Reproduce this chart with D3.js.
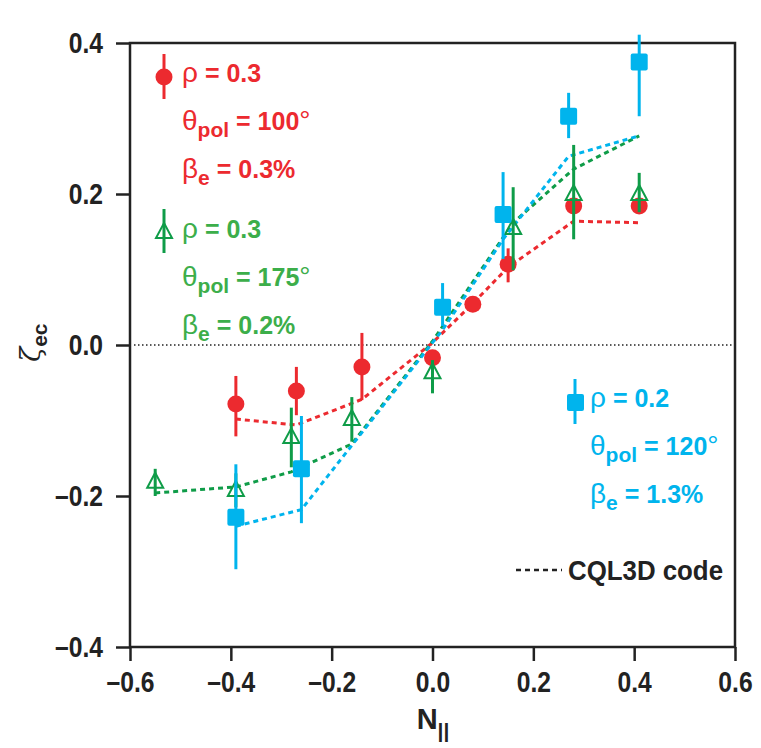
<!DOCTYPE html>
<html>
<head>
<meta charset="utf-8">
<script src="https://cdn.jsdelivr.net/npm/d3@7"></script>
<style>
  body { margin: 0; background: #fff; }
  text { font-family: "Liberation Sans", Arial, sans-serif; }
</style>
</head>
<body>
<div id="chart"></div>
<script>
// measured points, red series (rho = 0.3, theta = 100)
var redX  = [-0.39, -0.27, -0.14, 0.0, 0.08, 0.15, 0.28, 0.41];
var redY  = [-0.078, -0.061, -0.029, -0.017, 0.054, 0.107, 0.184, 0.184];
var redHi = [-0.041, -0.029, 0.016, null, null, 0.128, null, null];
var redLo = [-0.121, -0.093, -0.073, null, null, 0.083, null, null];

// green series (rho = 0.3, theta = 175)
var greenX  = [-0.55, -0.39, -0.28, -0.16, 0.0, 0.16, 0.28, 0.41];
var greenY  = [-0.181, -0.192, -0.122, -0.098, -0.036, 0.155, 0.200, 0.200];
var greenHi = [-0.164, -0.170, -0.083, -0.069, -0.020, 0.209, 0.265, 0.228];
var greenLo = [-0.200, -0.215, -0.162, -0.128, -0.064, 0.099, 0.140, 0.176];

// blue series (rho = 0.2, theta = 120)
var blueX  = [-0.39, -0.26, 0.02, 0.14, 0.27, 0.41];
var blueY  = [-0.228, -0.164, 0.050, 0.173, 0.303, 0.375];
var blueHi = [-0.158, -0.094, 0.082, 0.229, 0.334, 0.411];
var blueLo = [-0.297, -0.236, 0.025, 0.114, 0.274, 0.303];

// CQL3D code curves
var redModelX   = [-0.39, -0.27, -0.14, 0.0, 0.08, 0.15, 0.28, 0.41];
var redModelY   = [-0.098, -0.106, -0.072, 0.003, 0.055, 0.103, 0.164, 0.162];
var greenModelX = [-0.55, -0.39, -0.28, -0.16, 0.0, 0.16, 0.28, 0.41];
var greenModelY = [-0.196, -0.188, -0.168, -0.131, 0.005, 0.162, 0.233, 0.277];
var blueModelX  = [-0.39, -0.26, 0.02, 0.14, 0.27, 0.41];
var blueModelY  = [-0.240, -0.218, 0.020, 0.140, 0.250, 0.277];

var xTicks = [-0.6, -0.4, -0.2, 0.0, 0.2, 0.4, 0.6];
var yTicks = [-0.4, -0.2, 0.0, 0.2, 0.4];

((() => {
  var width = 761;
  var height = 748;

  var red = "#ec2a2f", green = "#0f9c48", greenText = "#3cae4a", blue = "#00b4ed";

  var svg = d3.select("#chart")
    .append("svg")
    .attr("width", width)
    .attr("height", height);

  var x = d3.scaleLinear().domain([-0.6, 0.6]).range([130, 735]);
  var y = d3.scaleLinear().domain([-0.4, 0.4]).range([647, 43]);

  var fmt = function(d) { return (d < 0 ? "\u2013" : "") + Math.abs(d).toFixed(1); };

  // squeeze text a bit, the original uses a narrow face
  function narrow(sel, k) {
    sel.each(function() {
      var w = this.getComputedTextLength();
      d3.select(this).attr("textLength", w * k).attr("lengthAdjust", "spacingAndGlyphs");
    });
  }

  // axes
  var yAxis = svg.append("g")
    .attr("transform", "translate(130,0)")
    .call(d3.axisLeft(y).tickValues(yTicks).tickSize(14).tickPadding(13).tickFormat(fmt));
  var xAxis = svg.append("g")
    .attr("transform", "translate(0,647)")
    .call(d3.axisBottom(x).tickValues(xTicks).tickSize(14).tickPadding(10).tickFormat(fmt));

  [yAxis, xAxis].forEach(function(a) {
    a.select(".domain").remove();
    a.selectAll(".tick line").attr("stroke", "#222").attr("stroke-width", 2.5);
    a.selectAll(".tick text")
      .attr("fill", "#222")
      .style("font-family", "'Liberation Sans', sans-serif")
      .style("font-weight", "bold")
      .style("font-size", "29px")
      .call(narrow, 0.85);
  });

  // frame
  svg.append("rect")
    .attr("x", x(-0.6)).attr("y", y(0.4))
    .attr("width", x(0.6) - x(-0.6)).attr("height", y(-0.4) - y(0.4))
    .attr("fill", "none").attr("stroke", "#222").attr("stroke-width", 2.5);

  // zero line
  svg.append("line")
    .attr("x1", x(-0.6) + 4).attr("x2", x(0.6) - 2)
    .attr("y1", y(0)).attr("y2", y(0))
    .attr("stroke", "#222").attr("stroke-width", 1.6)
    .attr("stroke-dasharray", "1.5,2.5");

  // model curves
  var line = d3.line().x(function(d) { return x(d[0]); }).y(function(d) { return y(d[1]); });
  [[redModelX, redModelY, red], [greenModelX, greenModelY, green], [blueModelX, blueModelY, blue]]
    .forEach(function(m) {
      svg.append("path")
        .datum(d3.zip(m[0], m[1]))
        .attr("d", line)
        .attr("fill", "none")
        .attr("stroke", m[2])
        .attr("stroke-width", 3)
        .attr("stroke-dasharray", "5,4");
    });

  function errBars(xs, lo, hi, color) {
    svg.append("g").selectAll("line")
      .data(d3.range(xs.length).filter(function(i) { return lo[i] != null; }))
      .enter().append("line")
      .attr("x1", function(i) { return x(xs[i]); })
      .attr("x2", function(i) { return x(xs[i]); })
      .attr("y1", function(i) { return y(lo[i]); })
      .attr("y2", function(i) { return y(hi[i]); })
      .attr("stroke", color).attr("stroke-width", 3);
  }

  // red circles
  errBars(redX, redLo, redHi, red);
  svg.append("g").selectAll("circle")
    .data(d3.zip(redX, redY))
    .enter().append("circle")
    .attr("cx", function(d) { return x(d[0]); })
    .attr("cy", function(d) { return y(d[1]); })
    .attr("r", 8.5)
    .attr("fill", red);

  // green triangles
  var tri = "M0,-9 L8,6 L-8,6 Z";
  errBars(greenX, greenLo, greenHi, green);
  svg.append("g").selectAll("path")
    .data(d3.zip(greenX, greenY))
    .enter().append("path")
    .attr("d", tri)
    .attr("transform", function(d) { return "translate(" + x(d[0]) + "," + y(d[1]) + ")"; })
    .attr("fill", "none").attr("stroke", green).attr("stroke-width", 2);

  // blue squares
  errBars(blueX, blueLo, blueHi, blue);
  svg.append("g").selectAll("rect")
    .data(d3.zip(blueX, blueY))
    .enter().append("rect")
    .attr("x", function(d) { return x(d[0]) - 8.5; })
    .attr("y", function(d) { return y(d[1]) - 8.5; })
    .attr("width", 17).attr("height", 17).attr("rx", 2)
    .attr("fill", blue);

  // legend blocks
  function block(x0, y0, color, rho, theta, beta) {
    var lines = [
      [["\u03c1", "g"], [" = " + rho, "b"]],
      [["\u03b8", "g"], ["pol", "s"], [" = " + theta, "b"], ["\u00b0", "g"]],
      [["\u03b2", "g"], ["e", "s"], [" = " + beta, "b"]]
    ];
    lines.forEach(function(parts, li) {
      var t = svg.append("text")
        .attr("x", x0).attr("y", y0 + li * 48)
        .attr("fill", color)
        .style("font-size", "25px");
      var shifted = false;
      parts.forEach(function(p) {
        var ts = t.append("tspan").text(p[0]);
        if (p[1] == "g") ts.style("font-weight", "normal").style("font-size", "28px");
        else ts.style("font-weight", "bold");
        if (p[1] == "s") { ts.attr("dy", 7).style("font-size", "21px"); shifted = true; }
        else if (shifted) { ts.attr("dy", -7); shifted = false; }
      });
    });
  }
  block(182, 82, red, "0.3", "100", "0.3%");
  block(182, 238, greenText, "0.3", "175", "0.2%");
  block(590, 407, blue, "0.2", "120", "1.3%");

  // legend markers
  svg.append("line").attr("x1", 164).attr("x2", 164).attr("y1", 54).attr("y2", 99)
    .attr("stroke", red).attr("stroke-width", 3);
  svg.append("circle").attr("cx", 164).attr("cy", 77).attr("r", 8.5).attr("fill", red);

  svg.append("line").attr("x1", 164).attr("x2", 164).attr("y1", 209).attr("y2", 253)
    .attr("stroke", green).attr("stroke-width", 3);
  svg.append("path").attr("d", tri).attr("transform", "translate(164,232)")
    .attr("fill", "none").attr("stroke", green).attr("stroke-width", 2);

  svg.append("line").attr("x1", 575).attr("x2", 575).attr("y1", 379).attr("y2", 424)
    .attr("stroke", blue).attr("stroke-width", 3);
  svg.append("rect").attr("x", 567).attr("y", 394).attr("width", 17).attr("height", 17)
    .attr("rx", 2).attr("fill", blue);

  // CQL3D key
  svg.append("line").attr("x1", 516).attr("x2", 562).attr("y1", 570).attr("y2", 570)
    .attr("stroke", "#222").attr("stroke-width", 2.5).attr("stroke-dasharray", "5,4");
  svg.append("text").attr("x", 568).attr("y", 580)
    .attr("fill", "#222")
    .style("font-weight", "bold").style("font-size", "28px")
    .attr("textLength", 155).attr("lengthAdjust", "spacingAndGlyphs")
    .text("CQL3D code");

  // axis titles
  var xl = svg.append("text").attr("x", 433).attr("y", 729)
    .attr("text-anchor", "middle").attr("fill", "#222");
  xl.append("tspan").text("N")
    .style("font-weight", "bold").style("font-size", "29px");
  xl.append("tspan").text("||").attr("dy", 9)
    .style("font-weight", "bold").style("font-size", "21px");

  var yl = svg.append("text")
    .attr("transform", "translate(40,362) rotate(-90)")
    .attr("fill", "#222");
  yl.append("tspan").text("\u03b6")
    .style("font-family", "'DejaVu Serif', serif").style("font-style", "italic")
    .style("font-size", "28px");
  yl.append("tspan").text("ec").attr("dy", 7)
    .style("font-weight", "bold").style("font-size", "21px");
})());
</script>
</body>
</html>
